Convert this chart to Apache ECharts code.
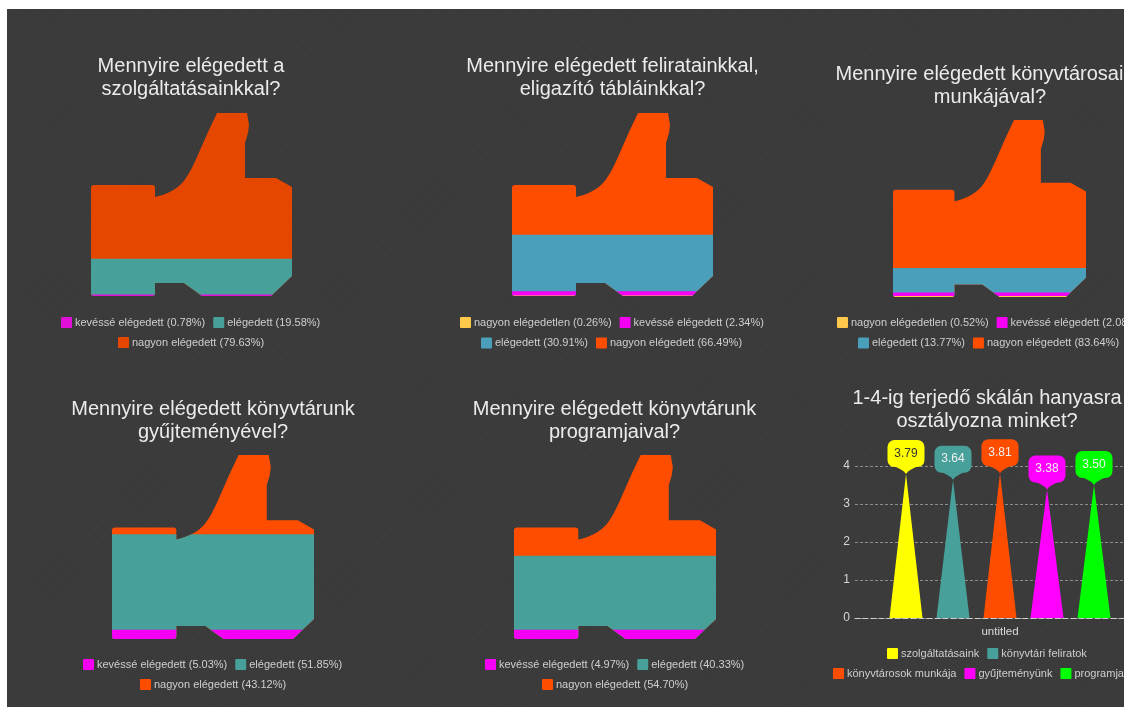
<!DOCTYPE html>
<html lang="hu">
<head>
<meta charset="utf-8">
<title>Elégedettségi felmérés</title>
<style>
  html, body { margin: 0; padding: 0; background: #fff; overflow: hidden; width: 1124px; height: 707px; }
  #chart {
    position: absolute; left: 7px; top: 9px; width: 1200px; height: 698px;
    background-color: #3b3b3b;
    background-image:
      repeating-linear-gradient(45deg, rgba(0,0,0,.035) 0 1px, transparent 1px 3px),
      repeating-linear-gradient(-45deg, rgba(255,255,255,.012) 0 1px, transparent 1px 3px);
  }
</style>
<script src="https://cdn.jsdelivr.net/npm/echarts@6/dist/echarts.min.js"></script>
</head>
<body>
<div id="chart"></div>
<script>
// Survey answers, percent per answer, bottom of the stack first
const answers = ['nagyon elégedetlen', 'kevéssé elégedett', 'elégedett', 'nagyon elégedett'];
const serviceValues = [0, 0.78, 19.58, 79.63];
const signValues = [0.26, 2.34, 30.91, 66.49];
const staffValues = [0.52, 2.08, 13.77, 83.64];
const collectionValues = [0, 5.03, 51.85, 43.12];
const programValues = [0, 4.97, 40.33, 54.70];

// Mean grades on the 1-4 scale
const gradeNames = ['szolgáltatásaink', 'könyvtári feliratok', 'könyvtárosok munkája', 'gyűjteményünk', 'programjaink'];
const gradeValues = [3.79, 3.64, 3.81, 3.38, 3.50];
const gradeCategory = ['untitled'];

const originX = 7, originY = 9;

// Thumbs-up outline used as the stacked column's silhouette
const thumbPath = 'path://M3 72 L61 72 Q64 72 64 75 L64 84 C74 82 85 77 92 69 C97 63 101 55 106 44 ' +
  'L117 19 L126 0 L156 0 L158 12 L157 20 L154 30 L154 65 L185 65 ' +
  'L201 74 L201 163 L180 183 L111 183 L93 170 L64 170 L64 180 Q64 183 61 183 L3 183 ' +
  'Q0 183 0 180 L0 75 Q0 72 3 72 Z';

const tealPalette = ['#ffc84a', '#f500f5', '#48a09a', '#ff4d00'];
const bluePalette = ['#ffc84a', '#f500f5', '#4aa0ba', '#ff4d00'];
const dimPalette = ['#ffc84a', '#e010d8', '#48a09a', '#e64700'];

const panels = [
  { title: 'Mennyire elégedett a\nszolgáltatásainkkal?', values: serviceValues, colors: dimPalette,
    cx: 191, titleTop: 55, box: [91, 113, 201, 183], rows: [[61, 322.5, [1, 2]], [118, 342.5, [3]]] },
  { title: 'Mennyire elégedett feliratainkkal,\neligazító tábláinkkal?', values: signValues, colors: bluePalette,
    cx: 612.5, titleTop: 55, box: [512, 113, 201, 183], rows: [[460, 322.5, [0, 1]], [481, 343, [2, 3]]] },
  { title: 'Mennyire elégedett könyvtárosaink\nmunkájával?', values: staffValues, colors: bluePalette,
    cx: 990, titleTop: 63, box: [893, 120, 193, 177], rows: [[837, 322.5, [0, 1]], [858, 343, [2, 3]]] },
  { title: 'Mennyire elégedett könyvtárunk\ngyűjteményével?', values: collectionValues, colors: tealPalette,
    cx: 213, titleTop: 398, box: [112, 455, 202, 184], rows: [[83, 664.5, [1, 2]], [140, 684.5, [3]]] },
  { title: 'Mennyire elégedett könyvtárunk\nprogramjaival?', values: programValues, colors: tealPalette,
    cx: 614.5, titleTop: 398, box: [514, 455, 202, 184], rows: [[485, 664.5, [1, 2]], [542, 684.5, [3]]] }
];

const gradeColors = ['#ffff00', '#48a09a', '#ff4d00', '#ff00ff', '#00ff00'];
const gradeTextColors = ['#333333', '#f0f0f0', '#f0f0f0', '#f0f0f0', '#f0f0f0'];

const sans = 'Arial, "Liberation Sans", sans-serif';
const titleStyle = { color: '#ebebeb', fontFamily: sans, fontSize: 20, fontWeight: 'normal', lineHeight: 23 };
const legendBase = {
  orient: 'horizontal', padding: 0, itemWidth: 11, itemHeight: 11, itemGap: 8, width: 700,
  icon: 'path://M1 0H10Q11 0 11 1V10Q11 11 10 11H1Q0 11 0 10V1Q0 0 1 0Z',
  textStyle: { color: '#cfcfcf', fontFamily: sans, fontSize: 11, padding: [0, 0, 0, -2] }
};

const option = {
  animation: false,
  backgroundColor: 'transparent',
  title: [], legend: [], grid: [], xAxis: [], yAxis: [], series: []
};

const answerLabel = (i, v) => answers[i] + ' (' + v.toFixed(2) + '%)';

panels.forEach((panel, p) => {
  const total = panel.values.reduce((a, b) => a + b, 0);
  option.title.push({
    text: panel.title, left: panel.cx - originX, top: panel.titleTop - originY,
    textAlign: 'center', padding: 0, textStyle: titleStyle
  });
  option.grid.push({
    left: panel.box[0] - originX, top: panel.box[1] - originY,
    width: panel.box[2], height: panel.box[3]
  });
  option.xAxis.push({ type: 'category', gridIndex: p, data: [''], show: false });
  option.yAxis.push({ type: 'value', gridIndex: p, min: 0, max: total, show: false });

  // Tallest cumulative value is painted first; each shorter one covers the bottom of the previous
  let running = total;
  for (let i = panel.values.length - 1; i >= 0; i--) {
    if (panel.values[i] > 0) {
      option.series.push({
        type: 'pictorialBar', name: answerLabel(i, panel.values[i]),
        xAxisIndex: p, yAxisIndex: p, z: 10 + (panel.values.length - i),
        barGap: '-100%', barCategoryGap: '0%',
        symbol: thumbPath, symbolSize: ['100%', '100%'],
        symbolPosition: 'start', symbolBoundingData: total, symbolClip: true,
        itemStyle: { color: panel.colors[i] },
        data: [running]
      });
    }
    running -= panel.values[i];
  }
  panel.rows.forEach(([x, y, items]) => {
    option.legend.push(Object.assign({}, legendBase, {
      left: x - originX, top: y - 5.5 - originY,
      data: items.map(i => answerLabel(i, panel.values[i]))
    }));
  });
});

// Grade panel: one category, five spikes side by side, each topped by a value bubble
const g = panels.length;
const gradeSpacing = 47 / 290, spikeWidth = 33 / 290;
option.title.push({
  text: '1-4-ig terjedő skálán hanyasra\nosztályozna minket?', left: 987 - originX, top: 387 - originY,
  textAlign: 'center', padding: 0, textStyle: titleStyle
});
option.grid.push({ left: 855 - originX, top: 466 - originY, width: 290, height: 152 });
option.xAxis.push({
  type: 'category', gridIndex: g, data: gradeCategory,
  name: gradeCategory[0], nameLocation: 'middle', nameGap: 8,
  nameTextStyle: { color: '#dcdcdc', fontFamily: sans, fontSize: 11.5 },
  axisLabel: { show: false }, axisTick: { show: false },
  axisLine: { lineStyle: { color: '#cfcfcf', type: [5, 3], width: 1 } }
});
option.yAxis.push({
  type: 'value', gridIndex: g, min: 0, max: 4, interval: 1,
  axisLine: { show: false }, axisTick: { show: false },
  axisLabel: { color: '#d5d5d5', fontFamily: sans, fontSize: 12, margin: 5 },
  splitLine: { lineStyle: { color: '#8c8c8c', type: [3, 2], width: 1 } }
});
gradeNames.forEach((name, i) => {
  option.series.push({
    type: 'custom', name, xAxisIndex: g, yAxisIndex: g, z: 20,
    coordinateSystem: 'cartesian2d',
    itemStyle: { color: gradeColors[i] },
    encode: { x: 0, y: 1 },
    data: [[0, gradeValues[i]]],
    renderItem: (params, api) => {
      const band = api.size([1, 0])[0];
      const tip = api.coord([0, api.value(1)]);
      const base = api.coord([0, 0]);
      const x = tip[0] + (i - 2) * gradeSpacing * band;
      const half = spikeWidth * band / 2;
      const color = gradeColors[i];
      const bubbleW = 37, bubbleH = 27, tail = 7;
      const neck = tip[1] - tail;
      return {
        type: 'group',
        children: [
          { type: 'polygon', shape: { points: [[x - half, base[1]], [x + half, base[1]], [x, tip[1]]] }, style: { fill: color } },
          { type: 'rect', shape: { x: x - bubbleW / 2, y: neck - bubbleH, width: bubbleW, height: bubbleH, r: 7 }, style: { fill: color } },
          { type: 'polygon', shape: { points: [[x - 11, neck - 0.5], [x - 6, neck + 2], [x - 2, neck + 4.5], [x, tip[1]], [x + 2, neck + 4.5], [x + 6, neck + 2], [x + 11, neck - 0.5]] }, style: { fill: color } },
          { type: 'text', style: {
              x, y: neck - bubbleH / 2, text: api.value(1).toFixed(2),
              textAlign: 'center', textVerticalAlign: 'middle', fill: gradeTextColors[i],
              font: '12px Arial, "Liberation Sans", sans-serif' } }
        ]
      };
    }
  });
});
[[887, 653.5, [0, 1]], [833, 673.5, [2, 3, 4]]].forEach(([x, y, items]) => {
  option.legend.push(Object.assign({}, legendBase, {
    left: x - originX, top: y - 5.5 - originY,
    data: items.map(i => gradeNames[i])
  }));
});

const chart = echarts.init(document.getElementById('chart'), null, { renderer: 'canvas' });
chart.setOption(option);
</script>
</body>
</html>
